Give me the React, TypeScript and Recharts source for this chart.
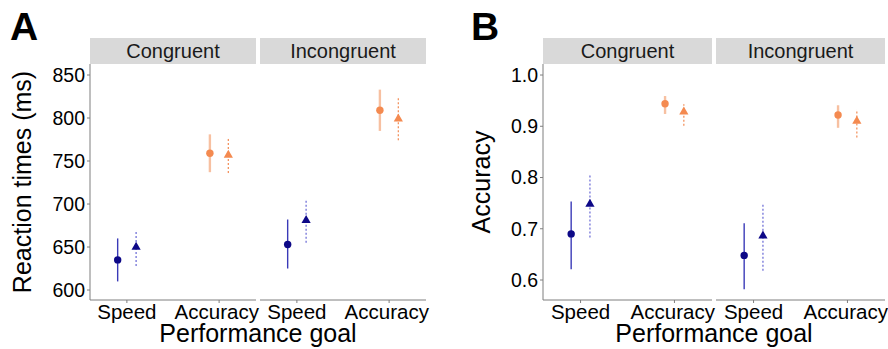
import { ScatterChart, Scatter, XAxis, YAxis, ErrorBar } from "recharts";

const goals = ["Speed", "Accuracy"];
const conditions = ["Congruent", "Incongruent"];

// reaction times, [condition][goal]
const rtCircleMean = [[635, 759], [653, 809]];
const rtCircleLow = [[610, 737], [625, 785]];
const rtCircleHigh = [[660, 781], [682, 833]];
const rtTriMean = [[650, 757], [681, 799]];
const rtTriLow = [[628, 736], [655, 774]];
const rtTriHigh = [[669, 776], [705, 824]];

// accuracy, [condition][goal]
const accCircleMean = [[0.69, 0.944], [0.648, 0.922]];
const accCircleLow = [[0.621, 0.924], [0.582, 0.897]];
const accCircleHigh = [[0.753, 0.959], [0.711, 0.941]];
const accTriMean = [[0.748, 0.928], [0.686, 0.91]];
const accTriLow = [[0.683, 0.901], [0.618, 0.878]];
const accTriHigh = [[0.804, 0.943], [0.748, 0.932]];

const rtTicks = [600, 650, 700, 750, 800, 850];
const accTicks = [0.6, 0.7, 0.8, 0.9, 1.0];

const FONT = "'Liberation Sans', Arial, sans-serif";
const AXIS = "#7f7f7f";
const pointColor = ["#0d0887", "#f48a50"];
const solidErr = ["#3a3ab8", "#f7c0a1"];
const dotErr = ["#7373d8", "#f39460"];
const DODGE = 0.1;

const point = (mean: number[][], low: number[][], high: number[][], c: number, g: number, off: number) => {
  const y = mean[c][g];
  return [{ x: g + 1 + off, y, err: [y - low[c][g], high[c][g] - y] }];
};

const Dot = (p: any) => <circle cx={p.cx} cy={p.cy} r={3.7} fill={p.fill} />;
const Tri = (p: any) => {
  const w = 4.6, h = 8;
  return (
    <polygon
      points={`${p.cx},${p.cy - (2 * h) / 3} ${p.cx + w},${p.cy + h / 3} ${p.cx - w},${p.cy + h / 3}`}
      fill={p.fill}
    />
  );
};

interface PanelProps {
  c: number;
  left: number;
  width: number;
  yWidth: number;
  showY: boolean;
  domain: [number, number];
  ticks: number[];
  fmt: (v: number) => string;
  mean: number[][][];
  low: number[][][];
  high: number[][][];
}

const Panel = ({ c, left, width, yWidth, showY, domain, ticks, fmt, mean, low, high }: PanelProps) => (
  <div style={{ position: "absolute", left, top: 64 }}>
    <ScatterChart width={width} height={266} margin={{ top: 0, right: 0, bottom: 0, left: 0 }}>
      <XAxis
        type="number"
        dataKey="x"
        domain={[0.6, 2.4]}
        ticks={[1, 2]}
        allowDataOverflow
        tickFormatter={(v) => goals[v - 1]}
        height={30}
        tickSize={3}
        tickMargin={1}
        axisLine={{ stroke: AXIS }}
        tickLine={{ stroke: AXIS }}
        tick={{ fill: "#000", fontSize: 20.5, fontFamily: FONT }}
      />
      <YAxis
        type="number"
        dataKey="y"
        domain={domain}
        ticks={ticks}
        allowDataOverflow
        hide={!showY}
        width={yWidth}
        tickFormatter={fmt}
        tickSize={3}
        tickMargin={2}
        axisLine={{ stroke: AXIS }}
        tickLine={{ stroke: AXIS }}
        tick={{ fill: "#000", fontSize: 19.5, fontFamily: FONT }}
      />
      {goals.map((g, gi) => [
        <Scatter
          key={`${g}-c`}
          name={`${g} circle`}
          data={point(mean[0], low[0], high[0], c, gi, -DODGE)}
          fill={pointColor[gi]}
          shape={Dot}
          isAnimationActive={false}
        >
          <ErrorBar dataKey="err" direction="y" width={0} stroke={solidErr[gi]} strokeWidth={gi === 0 ? 1.4 : 2.4} />
        </Scatter>,
        <Scatter
          key={`${g}-t`}
          name={`${g} triangle`}
          data={point(mean[1], low[1], high[1], c, gi, DODGE)}
          fill={pointColor[gi]}
          shape={Tri}
          isAnimationActive={false}
        >
          <ErrorBar dataKey="err" direction="y" width={0} stroke={dotErr[gi]} strokeWidth={1.3} strokeDasharray="2 2" />
        </Scatter>,
      ])}
    </ScatterChart>
  </div>
);

const Strip = ({ x, w, label }: { x: number; w: number; label: string }) => (
  <g>
    <rect x={x} y={38} width={w} height={26} fill="#d9d9d9" />
    <text x={x + w / 2} y={58} textAnchor="middle" fontSize={20} fill="#1a1a1a" fontFamily={FONT}>
      {label}
    </text>
  </g>
);

export default function App() {
  const rtFmt = (v: number) => String(v);
  const accFmt = (v: number) => v.toFixed(1);
  return (
    <div style={{ position: "absolute", left: 0, top: 0, width: 888, height: 349, background: "#fff" }}>
      <style>{`.recharts-surface { overflow: visible; } .recharts-wrapper { overflow: visible; }`}</style>
      <svg width={888} height={349} style={{ position: "absolute", left: 0, top: 0 }}>
        <text x={10} y={40} fontSize={39} fontWeight="bold" fontFamily={FONT}>A</text>
        <text x={471} y={40} fontSize={39} fontWeight="bold" fontFamily={FONT}>B</text>
        <Strip x={90} w={166} label={conditions[0]} />
        <Strip x={260} w={166} label={conditions[1]} />
        <Strip x={543} w={169} label={conditions[0]} />
        <Strip x={716} w={169} label={conditions[1]} />
        <text transform="translate(31,182) rotate(-90)" textAnchor="middle" fontSize={25} fontFamily={FONT}>
          Reaction times (ms)
        </text>
        <text transform="translate(490,182) rotate(-90)" textAnchor="middle" fontSize={25} fontFamily={FONT}>
          Accuracy
        </text>
        <text x={258} y={342} textAnchor="middle" fontSize={25} fontFamily={FONT}>Performance goal</text>
        <text x={714} y={342} textAnchor="middle" fontSize={25} fontFamily={FONT}>Performance goal</text>
      </svg>
      <Panel c={0} left={0} width={256} yWidth={90} showY domain={[588.4, 862.8]} ticks={rtTicks} fmt={rtFmt}
        mean={[rtCircleMean, rtTriMean]} low={[rtCircleLow, rtTriLow]} high={[rtCircleHigh, rtTriHigh]} />
      <Panel c={1} left={260} width={166} yWidth={0} showY={false} domain={[588.4, 862.8]} ticks={rtTicks} fmt={rtFmt}
        mean={[rtCircleMean, rtTriMean]} low={[rtCircleLow, rtTriLow]} high={[rtCircleHigh, rtTriHigh]} />
      <Panel c={0} left={440} width={272} yWidth={103} showY domain={[0.561, 1.0215]} ticks={accTicks} fmt={accFmt}
        mean={[accCircleMean, accTriMean]} low={[accCircleLow, accTriLow]} high={[accCircleHigh, accTriHigh]} />
      <Panel c={1} left={716} width={169} yWidth={0} showY={false} domain={[0.561, 1.0215]} ticks={accTicks} fmt={accFmt}
        mean={[accCircleMean, accTriMean]} low={[accCircleLow, accTriLow]} high={[accCircleHigh, accTriHigh]} />
    </div>
  );
}
